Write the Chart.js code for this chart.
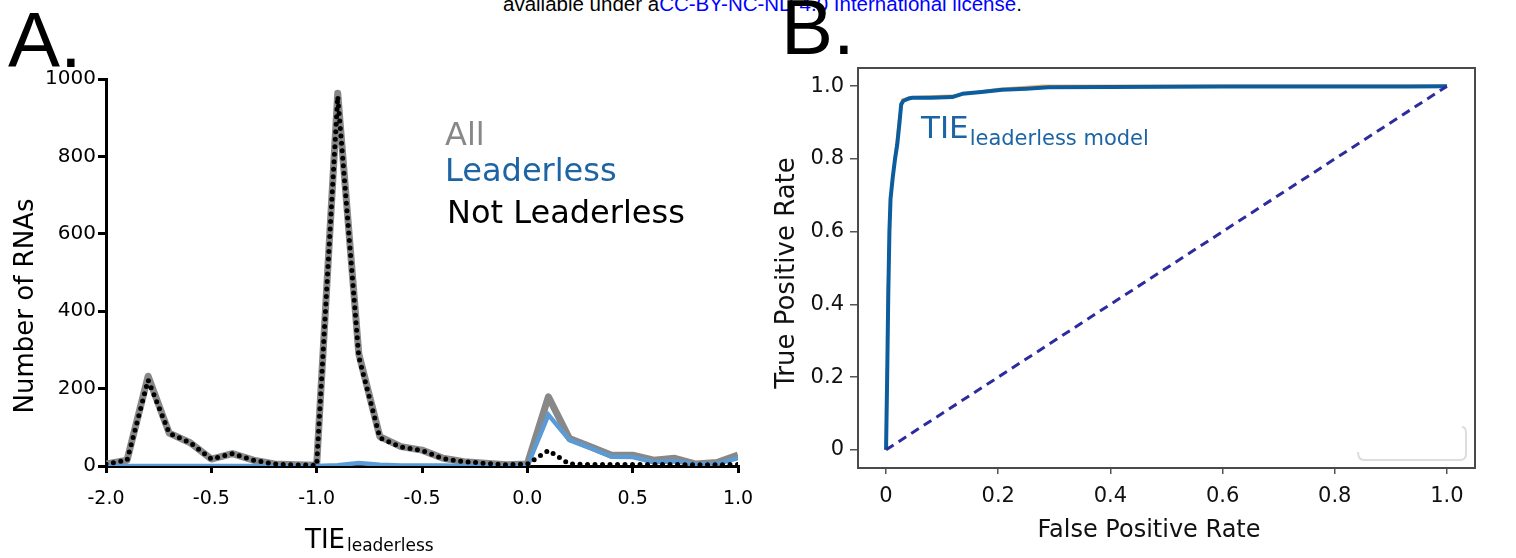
<!DOCTYPE html>
<html>
<head>
<meta charset="utf-8">
<script src="https://cdn.jsdelivr.net/npm/chart.js@4.4.0/dist/chart.umd.min.js"></script>
<style>
  html, body { margin: 0; padding: 0; background: #fff; }
  body { width: 1516px; height: 558px; position: relative; overflow: hidden; }
  .panel { position: absolute; top: 0; height: 558px; }
  #panelA { left: 0; width: 760px; }
  #panelB { left: 760px; width: 756px; }
  .letter { position: absolute; font-family: 'Liberation Sans', Arial, sans-serif; font-size: 78px; line-height: 78px; color: #000; }
  #header { position: absolute; left: 503px; top: -6px; font-family: 'Liberation Sans', Arial, sans-serif; font-size: 20.5px; line-height: 20px; white-space: nowrap; color: #000; }
</style>
</head>
<body>
<div id="header">available under a<span style="color:#0000ff">CC-BY-NC-ND 4.0 International license</span>.</div>
<div class="panel" id="panelA"><canvas id="chartA"></canvas></div>
<div class="panel" id="panelB"><canvas id="chartB"></canvas></div>
<div class="letter" style="left:8px;top:1px">A.</div>
<div class="letter" style="left:781px;top:-12px">B.</div>
<script>
// ---- panel A: number of RNAs per TIE bin (31 bins) ----
const allRNAs = [5, 15, 232, 85, 60, 18, 32, 15, 5, 3, 2, 963, 290, 76, 50, 41, 20, 11, 7, 3, 5, 179, 71, 50, 28, 28, 15, 20, 5, 9, 28];
const leaderlessRNAs = [0, 0, 0, 0, 0, 0, 0, 0, 0, 0, 0, 2, 8, 3, 1, 1, 1, 0, 0, 0, 0, 132, 67, 46, 24, 23, 10, 12, 4, 6, 20];
const notLeaderlessRNAs = [5, 15, 222, 85, 60, 18, 32, 15, 5, 3, 2, 955, 282, 73, 49, 40, 19, 11, 7, 3, 5, 40, 5, 4, 4, 4, 4, 4, 3, 3, 4];
const xTickPos = [0, 5, 10, 15, 20, 25, 30];
const xTickLabels = ['-2.0', '-0.5', '-1.0', '-0.5', '0.0', '0.5', '1.0'];
const yTickValsA = [0, 200, 400, 600, 800, 1000];

// ---- panel B: ROC curve ----
const fpr = [0, 0.002, 0.004, 0.006, 0.008, 0.012, 0.016, 0.020, 0.024, 0.027, 0.031, 0.040, 0.047, 0.080, 0.118, 0.136, 0.170, 0.207, 0.250, 0.290, 0.400, 0.600, 0.800, 0.930, 1.0];
const tpr = [0, 0.20, 0.43, 0.60, 0.69, 0.75, 0.80, 0.84, 0.90, 0.95, 0.960, 0.966, 0.968, 0.968, 0.970, 0.979, 0.984, 0.990, 0.993, 0.997, 0.998, 0.999, 0.999, 0.999, 1.0];
const fprAlt = [0, 0.003, 0.006, 0.010, 0.016, 0.022, 0.028, 0.045, 0.12, 0.20, 0.28, 0.50, 1.0];
const tprAlt = [0, 0.45, 0.62, 0.72, 0.81, 0.90, 0.963, 0.970, 0.975, 0.993, 1.002, 1.002, 1.002];
const chanceFpr = [0, 1];
const chanceTpr = [0, 1];
const tickValsB = [0, 0.2, 0.4, 0.6, 0.8, 1.0];

const toXY = (vals) => vals.map((v, i) => ({ x: i, y: v }));
const pairXY = (xs, ys) => xs.map((x, i) => ({ x: x, y: ys[i] }));

const annotA = {
    id: 'annotA',
    afterDraw(chart) {
        const ctx = chart.ctx;
        ctx.save();
        ctx.textBaseline = 'alphabetic';

        // y title
        ctx.save();
        ctx.translate(33, 306);
        ctx.rotate(-Math.PI / 2);
        ctx.textAlign = 'center';
        ctx.fillStyle = '#000';
        ctx.font = '26px "DejaVu Sans"';
        ctx.fillText('Number of RNAs', 0, 0);
        ctx.restore();

        // x title with subscript
        ctx.textAlign = 'left';
        ctx.fillStyle = '#000';
        ctx.font = '26px "DejaVu Sans"';
        ctx.fillText('TIE', 305, 548);
        const w = ctx.measureText('TIE').width;
        ctx.font = '17px "DejaVu Sans"';
        ctx.fillText('leaderless', 305 + w + 2, 551);

        // legend as text
        ctx.font = '32px "DejaVu Sans"';
        ctx.fillStyle = '#888888';
        ctx.fillText('All', 445, 145);
        ctx.fillStyle = '#1c64a4';
        ctx.fillText('Leaderless', 445, 181);
        ctx.fillStyle = '#000';
        ctx.fillText('Not Leaderless', 447, 223);
        ctx.restore();
    }
};

const annotB = {
    id: 'annotB',
    afterDraw(chart) {
        const ctx = chart.ctx;
        const a = chart.chartArea;
        ctx.save();
        // frame
        ctx.strokeStyle = '#4a4a4a';
        ctx.lineWidth = 2;
        ctx.strokeRect(a.left, a.top, a.right - a.left, a.bottom - a.top);

        // faint empty legend box
        ctx.strokeStyle = '#dddddd';
        ctx.lineWidth = 2;
        ctx.beginPath();
        ctx.moveTo(598, 452);
        ctx.quadraticCurveTo(598, 460, 604, 460);
        ctx.lineTo(700, 460);
        ctx.quadraticCurveTo(706, 460, 706, 454);
        ctx.lineTo(706, 433);
        ctx.quadraticCurveTo(706, 427, 702, 427);
        ctx.stroke();

        // axis titles
        ctx.fillStyle = '#111';
        ctx.textBaseline = 'alphabetic';
        ctx.textAlign = 'center';
        ctx.font = '24px "DejaVu Sans"';
        ctx.fillText('False Positive Rate', 389, 537);
        ctx.save();
        ctx.translate(34, 273);
        ctx.rotate(-Math.PI / 2);
        ctx.font = '26px "DejaVu Sans"';
        ctx.fillText('True Positive Rate', 0, 0);
        ctx.restore();

        // curve label
        ctx.fillStyle = '#1c64a4';
        ctx.textAlign = 'left';
        ctx.font = '31px "DejaVu Sans"';
        ctx.fillText('TIE', 161, 138);
        const w = ctx.measureText('TIE').width;
        ctx.font = '21px "DejaVu Sans"';
        ctx.fillText('leaderless model', 161 + w + 1, 145);
        ctx.restore();
    }
};

new Chart(document.getElementById('chartA'), {
    type: 'line',
    data: {
        datasets: [
            {
                label: 'Not Leaderless',
                data: toXY(notLeaderlessRNAs),
                borderColor: '#000',
                borderWidth: 5,
                borderDash: [0, 7.5],
                borderCapStyle: 'round',
                order: 1
            },
            {
                label: 'Leaderless',
                data: toXY(leaderlessRNAs),
                borderColor: '#5b9bd5',
                borderWidth: 4.5,
                order: 2
            },
            {
                label: 'All',
                data: toXY(allRNAs),
                borderColor: '#888888',
                borderWidth: 7,
                borderJoinStyle: 'round',
                order: 3
            }
        ]
    },
    options: {
        responsive: true,
        maintainAspectRatio: false,
        animation: false,
        layout: { padding: { left: 0, right: 22, top: 79, bottom: 0 } },
        elements: { point: { radius: 0 }, line: { tension: 0 } },
        plugins: { legend: { display: false }, tooltip: { enabled: false } },
        scales: {
            x: {
                type: 'linear',
                min: 0,
                max: 30,
                afterFit: (s) => { s.height = 92; s.paddingLeft = 0; s.paddingRight = 0; },
                afterBuildTicks: (s) => { s.ticks = xTickPos.map(v => ({ value: v })); },
                ticks: {
                    callback: (v, i) => xTickLabels[i],
                    font: { family: 'DejaVu Sans', size: 19 },
                    color: '#000',
                    padding: 15,
                    maxRotation: 0,
                    autoSkip: false
                },
                grid: { display: true, drawOnChartArea: false, tickLength: 7, color: '#000', lineWidth: 3 },
                border: { display: true, color: '#000', width: 3 }
            },
            y: {
                min: 0,
                max: 1000,
                afterFit: (s) => { s.width = 106; s.paddingTop = 0; s.paddingBottom = 0; },
                afterBuildTicks: (s) => { s.ticks = yTickValsA.map(v => ({ value: v })); },
                ticks: {
                    callback: (v) => String(v),
                    font: { family: 'DejaVu Sans', size: 20 },
                    color: '#000',
                    padding: 2
                },
                grid: { display: true, drawOnChartArea: false, tickLength: 8, color: '#000', lineWidth: 3 },
                border: { display: true, color: '#000', width: 3 }
            }
        }
    },
    plugins: [annotA]
});

new Chart(document.getElementById('chartB'), {
    type: 'line',
    data: {
        datasets: [
            {
                label: 'chance',
                data: pairXY(chanceFpr, chanceTpr),
                borderColor: '#2c2c9e',
                borderWidth: 3,
                borderDash: [9, 6],
                order: 0
            },
            {
                label: 'TIE leaderless model',
                data: pairXY(fpr, tpr),
                borderColor: '#0b5d9e',
                borderWidth: 4,
                borderJoinStyle: 'round',
                order: 1
            },
            {
                label: 'alt',
                data: pairXY(fprAlt, tprAlt),
                borderColor: '#f3b568',
                borderWidth: 2,
                order: 2
            }
        ]
    },
    options: {
        responsive: true,
        maintainAspectRatio: false,
        animation: false,
        layout: { padding: { left: 0, right: 41, top: 68, bottom: 0 } },
        elements: { point: { radius: 0 }, line: { tension: 0 } },
        plugins: { legend: { display: false }, tooltip: { enabled: false } },
        scales: {
            x: {
                type: 'linear',
                min: -0.05,
                max: 1.05,
                afterFit: (s) => { s.height = 90; s.paddingLeft = 0; s.paddingRight = 0; },
                afterBuildTicks: (s) => { s.ticks = tickValsB.map(v => ({ value: v })); },
                ticks: {
                    callback: (v) => v === 0 ? '0' : v.toFixed(1),
                    font: { family: 'DejaVu Sans', size: 21 },
                    color: '#111',
                    padding: 10,
                    maxRotation: 0,
                    autoSkip: false
                },
                grid: { display: true, drawOnChartArea: false, tickLength: 6, color: '#555', lineWidth: 1.5 },
                border: { display: false }
            },
            y: {
                min: -0.05,
                max: 1.05,
                afterFit: (s) => { s.width = 98; s.paddingTop = 0; s.paddingBottom = 0; },
                afterBuildTicks: (s) => { s.ticks = tickValsB.map(v => ({ value: v })); },
                ticks: {
                    callback: (v) => v === 0 ? '0' : v.toFixed(1),
                    font: { family: 'DejaVu Sans', size: 21 },
                    color: '#111',
                    padding: 6
                },
                grid: { display: true, drawOnChartArea: false, tickLength: 8, color: '#555', lineWidth: 1.5 },
                border: { display: false }
            }
        }
    },
    plugins: [annotB]
});
</script>
</body>
</html>
